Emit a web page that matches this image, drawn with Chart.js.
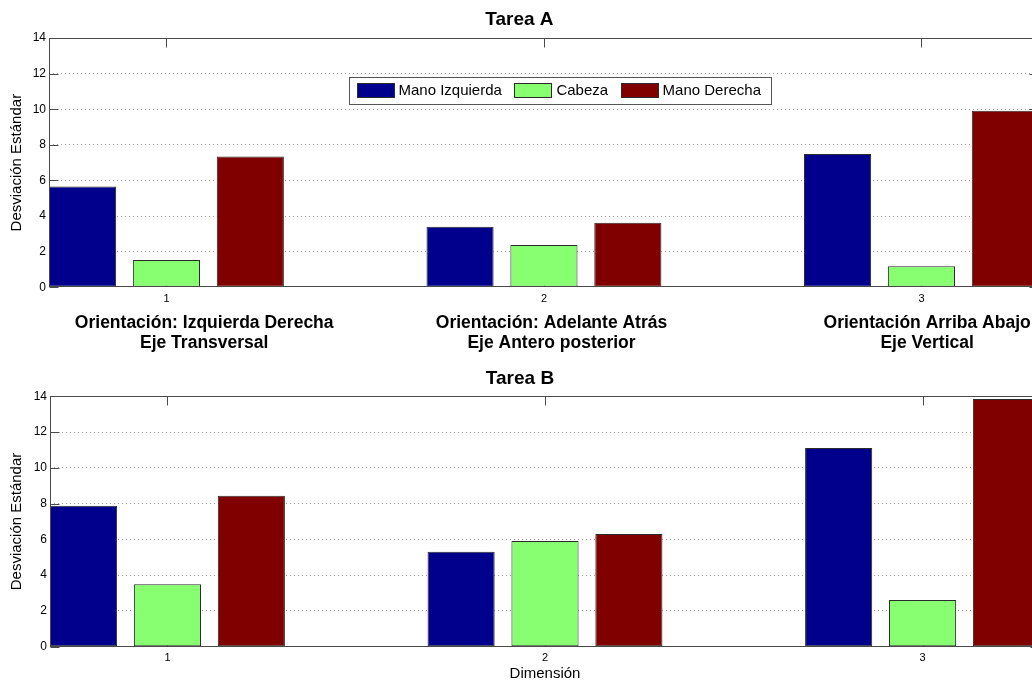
<!DOCTYPE html>
<html>
<head>
<meta charset="utf-8">
<script src="https://cdn.jsdelivr.net/npm/chart.js@4.4.1/dist/chart.umd.min.js"></script>
<style>
  html, body { margin: 0; padding: 0; background: #fff; overflow: hidden; width: 1032px; height: 682px; }
  .panel { position: absolute; left: 0; }
  canvas { display: block; }
</style>
</head>
<body>
<div class="panel" style="top:0"><canvas id="tareaA" width="1044" height="360"></canvas></div>
<div class="panel" style="top:360px"><canvas id="tareaB" width="1044" height="322"></canvas></div>
<script>
// Dimensions (x categories) and series names
const dimensiones = [1, 2, 3];
const series = ['Mano Izquierda', 'Cabeza', 'Mano Derecha'];

// Tarea A: standard deviation per dimension
const tareaA_manoIzquierda = [5.66, 3.40, 7.49];
const tareaA_cabeza        = [1.53, 2.37, 1.18];
const tareaA_manoDerecha   = [7.35, 3.62, 9.91];

// Tarea B: standard deviation per dimension
const tareaB_manoIzquierda = [7.88, 5.31, 11.11];
const tareaB_cabeza        = [3.49, 5.91, 2.61];
const tareaB_manoDerecha   = [8.44, 6.30, 13.85];

// Y tick values
const yTicks = [0, 2, 4, 6, 8, 10, 12, 14];

// Captions under the Tarea A axis, anchored at these x values
const orientacionTextos = [
  ['Orientación: Izquierda Derecha', 'Eje Transversal'],
  ['Orientación: Adelante Atrás', 'Eje Antero posterior'],
  ['Orientación Arriba Abajo', 'Eje Vertical']
];
const orientacionX = [1.10, 2.02, 3.015];

// ---- styling ----
const FONT = '"Liberation Sans", Arial, Helvetica, sans-serif';
const colores = ['rgb(0,0,140)', 'rgb(136,255,112)', 'rgb(128,0,0)'];
const AXIS_COLOR = '#4a4a4a';
const GRID_COLOR = '#a0a0a0';

// grouped bar geometry: group width 2/3 of a unit, bars 80% of their slot
const GROUP_FRAC = 2 / 3;
const BAR_FRAC = 0.8;
const halfSpan = GROUP_FRAC / 2 - (1 - BAR_FRAC) * (GROUP_FRAC / series.length) / 2;
const X_MIN = dimensiones[0] - halfSpan;
const X_MAX = dimensiones[dimensiones.length - 1] + halfSpan;

// axes box with inward tick marks
const axesBox = {
  id: 'axesBox',
  beforeDatasetsDraw(chart) {
    const { ctx, chartArea: a, scales } = chart;
    const L = Math.round(a.left) + 0.5, R = Math.round(a.right) - 0.5;
    const T = Math.round(a.top) + 0.5, B = Math.round(a.bottom) - 0.5;
    ctx.save();
    ctx.strokeStyle = AXIS_COLOR;
    ctx.lineWidth = 1;
    ctx.beginPath();
    scales.y.ticks.forEach(t => {
      const y = Math.round(scales.y.getPixelForValue(t.value)) + 0.5;
      ctx.moveTo(L, y); ctx.lineTo(L + 9, y);
      ctx.moveTo(R, y); ctx.lineTo(R - 9, y);
    });
    scales.x.ticks.forEach(t => {
      const x = Math.round(scales.x.getPixelForValue(t.value)) + 0.5;
      ctx.moveTo(x, T); ctx.lineTo(x, T + 9);
      ctx.moveTo(x, B); ctx.lineTo(x, B - 9);
    });
    ctx.stroke();
    ctx.restore();
  },
  afterDatasetsDraw(chart) {
    const { ctx, chartArea: a } = chart;
    const L = Math.round(a.left) + 0.5, R = Math.round(a.right) - 0.5;
    const T = Math.round(a.top) + 0.5, B = Math.round(a.bottom) - 0.5;
    ctx.save();
    ctx.strokeStyle = AXIS_COLOR;
    ctx.lineWidth = 1;
    ctx.strokeRect(L, T, R - L, B - T);
    ctx.restore();
  }
};

// boxed horizontal legend inside the top axes
const legendBox = {
  id: 'legendBox',
  afterDatasetsDraw(chart) {
    const { ctx, chartArea: a } = chart;
    const ds = chart.data.datasets;
    ctx.save();
    ctx.font = `15px ${FONT}`;
    const x0 = a.left + 300, y0 = a.top + 39, h = 26.5;
    const padL = 7.5, padR = 10, sw = 38, sh = 15, gapT = 4, gapI = 12.5;
    let w = padL + padR;
    ds.forEach((d, i) => {
      w += sw + gapT + ctx.measureText(d.label).width + (i < ds.length - 1 ? gapI : 0);
    });
    ctx.fillStyle = '#fff';
    ctx.fillRect(x0, y0, w, h);
    ctx.strokeStyle = '#555';
    ctx.lineWidth = 1;
    ctx.strokeRect(Math.round(x0) + 0.5, Math.round(y0) + 0.5, Math.round(w), Math.round(h));
    let x = x0 + padL;
    const cy = y0 + h / 2;
    ds.forEach((d, i) => {
      ctx.fillStyle = d.backgroundColor;
      ctx.fillRect(Math.round(x), Math.round(cy - sh / 2), sw, sh);
      ctx.strokeStyle = '#2b2b2b';
      ctx.strokeRect(Math.round(x) + 0.5, Math.round(cy - sh / 2) + 0.5, sw - 1, sh - 1);
      x += sw + gapT;
      ctx.fillStyle = '#000';
      ctx.textAlign = 'left';
      ctx.textBaseline = 'middle';
      ctx.fillText(d.label, x, cy + 0.5);
      x += ctx.measureText(d.label).width + gapI;
    });
    ctx.restore();
  }
};

// two-line captions below the Tarea A axis
const captions = {
  id: 'captions',
  afterDraw(chart) {
    const { ctx, chartArea: a, scales } = chart;
    ctx.save();
    ctx.font = `bold 17.5px ${FONT}`;
    ctx.fillStyle = '#000';
    ctx.textAlign = 'center';
    ctx.textBaseline = 'middle';
    orientacionTextos.forEach((lines, i) => {
      const x = scales.x.getPixelForValue(orientacionX[i]);
      lines.forEach((t, j) => ctx.fillText(t, x, a.bottom + 36 + j * 20));
    });
    ctx.restore();
  }
};

function makeChart(id, title, values, cfg, extraPlugins) {
  return new Chart(document.getElementById(id), {
    type: 'bar',
    data: {
      datasets: series.map((name, s) => ({
        label: name,
        data: dimensiones.map((d, i) => ({ x: d, y: values[s][i] })),
        backgroundColor: colores[s],
        borderColor: '#2b2b2b',
        borderWidth: 1,
        borderSkipped: false,
        categoryPercentage: GROUP_FRAC,
        barPercentage: BAR_FRAC
      }))
    },
    options: {
      responsive: false,
      devicePixelRatio: 1,
      animation: false,
      layout: { padding: { left: 0, right: cfg.padRight, top: 0, bottom: 0 } },
      plugins: {
        legend: { display: false },
        tooltip: { enabled: false },
        title: {
          display: true, text: title, color: '#000',
          font: { family: FONT, size: 19, weight: 'bold', lineHeight: 1.2 },
          padding: { top: cfg.titleTop, bottom: cfg.titleBottom }
        }
      },
      scales: {
        x: {
          type: 'linear', min: X_MIN, max: X_MAX, offset: false,
          afterBuildTicks: s => { s.ticks = dimensiones.map(v => ({ value: v })); },
          afterFit: s => { s.height = cfg.xHeight; },
          grid: { display: false, drawTicks: false, offset: false },
          border: { display: false },
          ticks: { padding: 5, color: '#000', font: { family: FONT, size: 11 }, maxRotation: 0, autoSkip: false },
          title: cfg.xTitle
            ? { display: true, text: cfg.xTitle, color: '#000', font: { family: FONT, size: 15, lineHeight: 1 }, padding: { top: 0, bottom: 0.5 } }
            : { display: false }
        },
        y: {
          min: yTicks[0], max: yTicks[yTicks.length - 1],
          afterBuildTicks: s => { s.ticks = yTicks.map(v => ({ value: v })); },
          afterFit: s => { s.width = cfg.yWidth; },
          grid: {
            drawTicks: false, lineWidth: 1,
            color: c => (c.tick && (c.tick.value === yTicks[0] || c.tick.value === yTicks[yTicks.length - 1])) ? 'rgba(0,0,0,0)' : GRID_COLOR
          },
          border: { display: false, dash: [1, 3] },
          ticks: { padding: 3, color: '#000', font: { family: FONT, size: 12 } },
          title: {
            display: true, text: 'Desviación Estándar', color: '#000',
            font: { family: FONT, size: 15, lineHeight: 1 }, padding: { top: 9.5, bottom: 0 }
          }
        }
      }
    },
    plugins: [axesBox].concat(extraPlugins)
  });
}

makeChart('tareaA', 'Tarea A',
  [tareaA_manoIzquierda, tareaA_cabeza, tareaA_manoDerecha],
  { padRight: 5.1, titleTop: 8.1, titleBottom: 7.1, xHeight: 72.7, yWidth: 49, xTitle: null },
  [legendBox, captions]);

makeChart('tareaB', 'Tarea B',
  [tareaB_manoIzquierda, tareaB_cabeza, tareaB_manoDerecha],
  { padRight: 4, titleTop: 7.6, titleBottom: 5.9, xHeight: 35.3, yWidth: 50, xTitle: 'Dimensión' },
  []);
</script>
</body>
</html>
